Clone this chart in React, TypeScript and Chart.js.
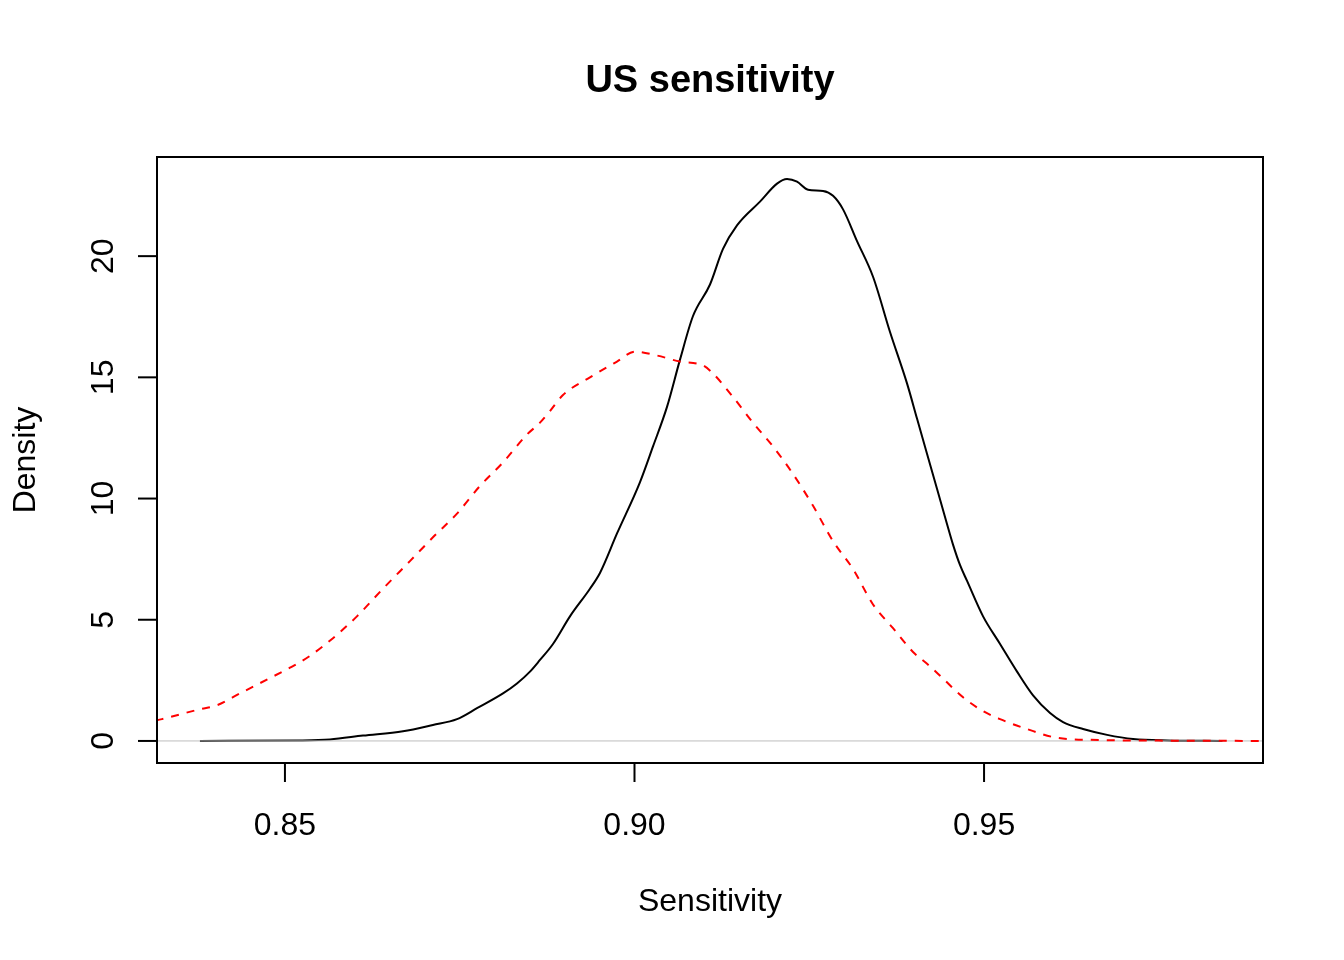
import React, { useEffect, useRef } from "react";
import { Chart, registerables } from "chart.js";

Chart.register(...registerables);

const chartTitle = "US sensitivity";
const xAxisTitle = "Sensitivity";
const yAxisTitle = "Density";

const xTicks = [0.85, 0.9, 0.95];
const xTickLabels = ["0.85", "0.90", "0.95"];
const yTicks = [0, 5, 10, 15, 20];
const yTickLabels = ["0", "5", "10", "15", "20"];

// Solid black density
const blackX = [
  0.83784, 0.85215, 0.85644, 0.86116, 0.86688, 0.87117, 0.87461, 0.87747, 0.88119, 0.88319,
  0.88505, 0.88648, 0.88834, 0.89077, 0.89363, 0.89506, 0.8975, 0.90079, 0.90265, 0.90465,
  0.90651, 0.90837, 0.9108, 0.91266, 0.91466, 0.91795, 0.92039, 0.92182, 0.92325, 0.92482,
  0.92697, 0.9284, 0.92983, 0.93183, 0.93412, 0.93655, 0.93898, 0.94041, 0.94184, 0.94327,
  0.9447, 0.94556, 0.94657, 0.94757, 0.94986, 0.95229, 0.95472, 0.95701, 0.95944,
  0.9613, 0.96416, 0.9676, 0.97132, 0.97618, 0.9841,
];
const blackY = [
  0.0, 0.02, 0.06, 0.22, 0.4, 0.66, 0.9, 1.35, 1.96, 2.37,
  2.86, 3.34, 4.0, 5.14, 6.28, 6.93, 8.56, 10.68, 12.15, 13.78,
  15.73, 17.53, 18.83, 20.3, 21.27, 22.25, 22.99, 23.18, 23.07, 22.74,
  22.69, 22.49, 21.93, 20.62, 19.15, 16.87, 14.75, 13.3, 11.85, 10.4,
  8.95, 8.1, 7.25, 6.6, 5.14, 4.0, 2.86, 1.88, 1.15,
  0.78, 0.49, 0.25, 0.08, 0.02, 0.0,
];

// Dashed red density
const redX = [
  0.82926, 0.8324, 0.83784, 0.84027, 0.84356, 0.84742, 0.85072, 0.85358, 0.85687, 0.8603,
  0.86402, 0.86788, 0.87117, 0.87461, 0.8779, 0.88119, 0.88462, 0.88648, 0.88791, 0.88977,
  0.89363, 0.8975, 0.90007, 0.90322, 0.90651, 0.9098, 0.91123, 0.91409, 0.91695, 0.91981,
  0.92268, 0.92554, 0.9284, 0.93126, 0.93412, 0.93698, 0.93984, 0.94185, 0.94371, 0.947,
  0.94986, 0.95229, 0.95615, 0.96044, 0.9666, 0.97804, 0.99092,
];
const redY = [
  0.7, 0.9, 1.31, 1.47, 1.96, 2.53, 3.02, 3.51, 4.24, 5.14,
  6.28, 7.42, 8.4, 9.38, 10.52, 11.49, 12.64, 13.13, 13.61, 14.27,
  15.0, 15.65, 16.06, 15.9, 15.65, 15.49, 15.16, 14.19, 13.13, 12.15,
  11.01, 9.7, 8.24, 7.09, 5.63, 4.65, 3.67, 3.18, 2.69, 1.8,
  1.23, 0.9, 0.49, 0.13, 0.04, 0.01, 0.0,
];

const zeroLineX = [0.8, 1.0];
const zeroLineY = [0, 0];

const FONT = '"Liberation Sans", Arial, Helvetica, sans-serif';

const toPoints = (xs: number[], ys: number[]) => xs.map((x, i) => ({ x, y: ys[i] }));

const rAxesPlugin = {
  id: "rAxes",
  afterDraw(chart: any) {
    const ctx = chart.ctx;
    const { left, right, top, bottom } = chart.chartArea;
    const xs = chart.scales.x;
    const ys = chart.scales.y;
    ctx.save();
    ctx.strokeStyle = "#000";
    ctx.lineWidth = 2;
    ctx.strokeRect(left, top, right - left, bottom - top);

    ctx.fillStyle = "#000";
    ctx.font = `32px ${FONT}`;
    ctx.textAlign = "center";
    ctx.textBaseline = "alphabetic";
    xTicks.forEach((v, i) => {
      const px = xs.getPixelForValue(v);
      ctx.beginPath();
      ctx.moveTo(px, bottom);
      ctx.lineTo(px, bottom + 19);
      ctx.stroke();
      ctx.fillText(xTickLabels[i], px, bottom + 72);
    });
    yTicks.forEach((v, i) => {
      const py = ys.getPixelForValue(v);
      ctx.beginPath();
      ctx.moveTo(left, py);
      ctx.lineTo(left - 19, py);
      ctx.stroke();
      ctx.save();
      ctx.translate(left - 44, py);
      ctx.rotate(-Math.PI / 2);
      ctx.fillText(yTickLabels[i], 0, 0);
      ctx.restore();
    });
    const cx = (left + right) / 2;
    const cy = (top + bottom) / 2;
    ctx.fillText(xAxisTitle, cx, bottom + 148);
    ctx.save();
    ctx.translate(left - 122, cy);
    ctx.rotate(-Math.PI / 2);
    ctx.fillText(yAxisTitle, 0, 0);
    ctx.restore();
    ctx.font = `bold 38px ${FONT}`;
    ctx.fillText(chartTitle, cx, 92);
    ctx.restore();
  },
};

export default function App() {
  const canvasRef = useRef<HTMLCanvasElement | null>(null);

  useEffect(() => {
    if (!canvasRef.current) return;
    const chart = new Chart(canvasRef.current, {
      type: "line",
      data: {
        datasets: [
          {
            label: "red",
            data: toPoints(redX, redY),
            borderColor: "#ff0000",
            borderWidth: 2,
            borderDash: [8, 8],
            pointRadius: 0,
            fill: false,
            cubicInterpolationMode: "monotone",
          },
          {
            label: "zero",
            data: toPoints(zeroLineX, zeroLineY),
            borderColor: "#bebebe",
            borderWidth: 1,
            pointRadius: 0,
            fill: false,
          },
          {
            label: "black",
            data: toPoints(blackX, blackY),
            borderColor: "#000000",
            borderWidth: 2,
            pointRadius: 0,
            fill: false,
            cubicInterpolationMode: "monotone",
          },
        ],
      },
      options: {
        responsive: false,
        animation: false,
        events: [],
        layout: { padding: { left: 157, top: 157, right: 81, bottom: 197 } },
        plugins: {
          legend: { display: false },
          title: { display: false },
          tooltip: { enabled: false },
        },
        scales: {
          x: { type: "linear", min: 0.8317, max: 0.9899, display: false },
          y: { type: "linear", min: -0.91, max: 24.09, display: false },
        },
      },
      plugins: [rAxesPlugin],
    });
    return () => chart.destroy();
  }, []);

  return (
    <div style={{ position: "absolute", left: 0, top: 0, width: 1344, height: 960, background: "#fff" }}>
      <canvas ref={canvasRef} width={1344} height={960} style={{ display: "block" }} />
    </div>
  );
}
